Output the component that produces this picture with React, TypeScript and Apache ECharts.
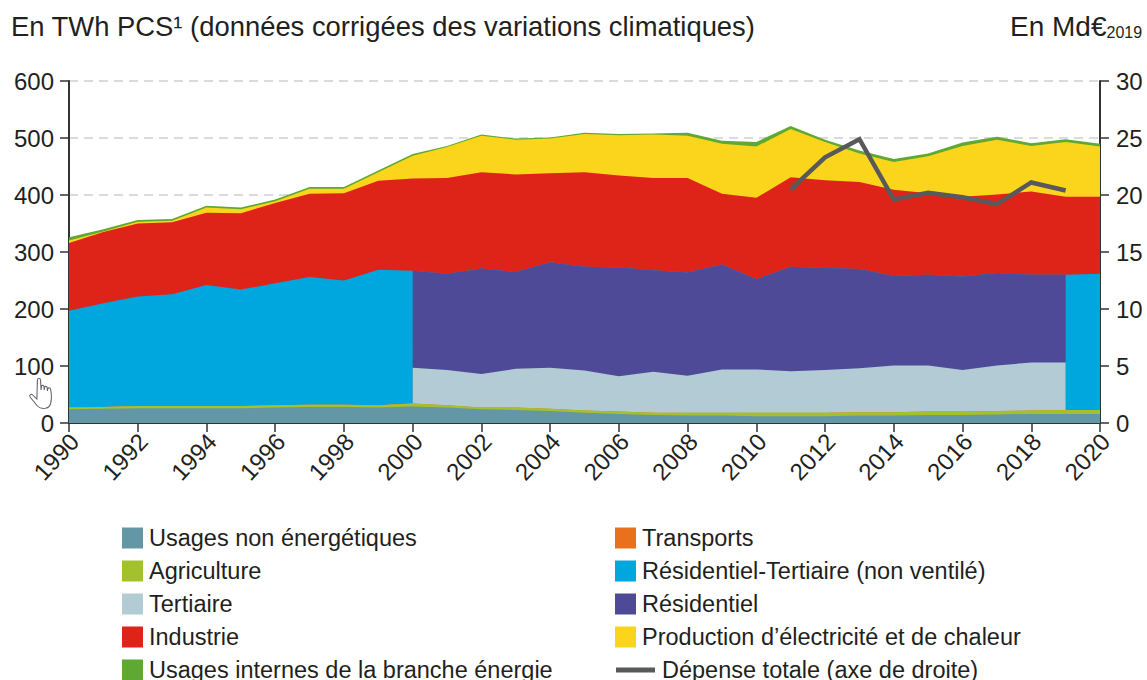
import React, { useEffect, useRef } from "react";
import * as echarts from "echarts";

const years = [1990,1991,1992,1993,1994,1995,1996,1997,1998,1999,2000,2001,2002,2003,2004,2005,2006,2007,2008,2009,2010,2011,2012,2013,2014,2015,2016,2017,2018,2019,2020];
const usagesNonEnergetiques = [24,25,26,26,26,26,27,28,28,27,29,27,24,23,21,18,16,14,13,13,12,12,12,13,13,14,14,15,16,16,16];
const agriculture = [3,3,4,4,4,4,4,4,4,4,5,4,3,4,4,4,4,4,5,5,6,6,6,6,6,6,6,6,6,7,7];
const transports = years.map(() => 0);
const N = null;
const residentielTertiaire = [170,182,192,196,212,204,214,224,218,238,233,N,N,N,N,N,N,N,N,N,N,N,N,N,N,N,N,N,N,237,239];
const tertiaire = [N,N,N,N,N,N,N,N,N,N,63,62,59,68,72,70,62,72,65,76,76,73,75,77,82,81,73,80,84,83,N];
const residentiel = [N,N,N,N,N,N,N,N,N,N,170,169,185,170,185,182,191,178,181,184,158,183,179,174,157,159,164,162,154,154,N];
const industrie = [119,125,128,126,127,134,141,146,153,156,162,168,169,171,156,166,161,162,166,124,143,157,154,153,151,143,140,138,146,137,135];
const production = [4,1,3,3,9,7,3,9,8,15,40,54,64,61,61,67,71,76,74,88,90,85,67,50,49,65,89,96,80,96,88];
const usagesInternes = [6,4,3,3,3,3,3,3,3,3,3,2,2,2,2,2,2,2,5,5,8,5,4,5,5,5,6,5,5,5,5];
const depenseYears = [2011,2012,2013,2014,2015,2016,2017,2018,2019];
const depenseValues = [20.5,23.3,24.9,19.6,20.2,19.8,19.2,21.1,20.4];

const legendLeft = ["Usages non énergétiques","Agriculture","Tertiaire","Industrie"];
const legendLeftLast = ["Usages internes de la branche énergie"];
const legendRight = ["Transports","Résidentiel-Tertiaire (non ventilé)","Résidentiel","Production d’électricité et de chaleur"];
const lineName = "Dépense totale (axe de droite)";

const FONT = "Liberation Sans";
const INK = "#231f20";
const EPS = 0.001;

// Each entry of `xs` is a year, plus a hair-breadth duplicate at the two hard breaks of the stack.
const xs: number[] = [];
years.forEach((y) => {
  xs.push(y);
  if (y === 2000 || y === 2019) xs.push(y + EPS);
});
const full = (a: number[]) => xs.map((x) => a[years.indexOf(Math.floor(x))]);
// Split series (Tertiaire, Résidentiel) are present from just after 2000 to 2019 included.
const splitPart = (a: (number | null)[]) =>
  xs.map((x) => (x > 2000 && x <= 2019 ? a[years.indexOf(Math.floor(x))] ?? 0 : 0));
// The non-split series is present up to 2000 included, and from just after 2019.
const mergedPart = (a: (number | null)[]) =>
  xs.map((x) => (x <= 2000 || x > 2019 ? a[years.indexOf(Math.floor(x))] ?? 0 : 0));

const layers: { name: string; color: string; values: number[] }[] = [
  { name: "Usages non énergétiques", color: "#6497a5", values: full(usagesNonEnergetiques) },
  { name: "Agriculture", color: "#a3c12a", values: full(agriculture) },
  { name: "Transports", color: "#e9711c", values: full(transports) },
  { name: "Tertiaire", color: "#b2cbd5", values: splitPart(tertiaire) },
  { name: "Résidentiel", color: "#4f4a97", values: splitPart(residentiel) },
  { name: "Résidentiel-Tertiaire (non ventilé)", color: "#00a6de", values: mergedPart(residentielTertiaire) },
  { name: "Industrie", color: "#de2318", values: full(industrie) },
  { name: "Production d’électricité et de chaleur", color: "#fbd51b", values: full(production) },
  { name: "Usages internes de la branche énergie", color: "#5fa932", values: full(usagesInternes) },
];

// Running totals: every layer is an area down to zero, painted from the top layer to the bottom one.
const running = xs.map(() => 0);
const areaSeries = layers.map((l) => {
  const data = xs.map((x, i) => {
    running[i] += l.values[i];
    return [x, running[i]];
  });
  return {
    name: l.name,
    type: "line",
    data,
    showSymbol: false,
    symbol: "none",
    color: l.color,
    itemStyle: { color: l.color },
    lineStyle: { width: 0, color: l.color },
    areaStyle: { color: l.color, opacity: 1 },
    silent: true,
    z: 2,
  };
}).reverse();

const legendBase = {
  orient: "vertical" as const,
  icon: "rect",
  itemWidth: 21,
  itemHeight: 21,
  itemGap: 9,
  padding: 0,
  selectedMode: false,
  textStyle: { fontFamily: FONT, fontSize: 23.5, color: INK, padding: [0, 0, 0, 1], lineHeight: 22 },
};

const handPath =
  "M8 2 C8 0 11 0 11 2 L11.5 12 L12 8 C12.5 7 14 7 14.3 8.5 L14.5 12 L15 9 C15.5 8 17 8 17.3 9.5 L17.5 13 L18 10.5 C18.5 9.5 20 9.5 20.5 11 C21.5 16 21.5 22 20.5 26 C19 31 12 32 8 28 L1 19 C0 17 2 15.5 3.5 17 L7.5 21 Z";
echarts.graphic.registerShape("hand", echarts.graphic.extendPath(handPath as any, {}) as any);

export default function App() {
  const ref = useRef<HTMLDivElement>(null);
  useEffect(() => {
    document.body.style.margin = "0";
    const chart = echarts.init(ref.current!, undefined, { renderer: "svg" });
    chart.setOption({
      animation: false,
      backgroundColor: "#ffffff",
      textStyle: { fontFamily: FONT },
      title: [
        {
          text: "En TWh PCS¹ (données corrigées des variations climatiques)",
          left: 11,
          top: 13,
          padding: 0,
          textStyle: { fontFamily: FONT, fontSize: 27.4, fontWeight: "normal", color: INK },
        },
        {
          text: "{a|En Md€}{s|2019}",
          left: 1010,
          top: 12,
          padding: 0,
          textStyle: {
            fontFamily: FONT,
            fontWeight: "normal",
            color: INK,
            rich: {
              a: { fontFamily: FONT, fontSize: 28, color: INK },
              s: { fontFamily: FONT, fontSize: 16, color: INK, verticalAlign: "bottom", padding: [12, 0, 0, 0] },
            },
          },
        },
      ],
      grid: { left: 69, right: 47, top: 81, bottom: 257, containLabel: false },
      xAxis: {
        type: "value",
        min: 1990,
        max: 2020,
        interval: 2,
        axisLine: { show: true, onZero: false, lineStyle: { color: "#333333", width: 2 } },
        axisTick: { show: true, length: 9, inside: false, lineStyle: { color: "#333333", width: 1.5 } },
        splitLine: { show: false },
        axisLabel: {
          rotate: 47,
          margin: 20,
          padding: [0, -8, 0, 0],
          fontFamily: FONT,
          fontSize: 24,
          color: INK,
          formatter: (v: number) => String(v),
        },
      },
      yAxis: [
        {
          type: "value",
          min: 0,
          max: 600,
          interval: 100,
          axisLine: { show: true, lineStyle: { color: "#333333", width: 2 } },
          axisTick: { show: true, length: 9, lineStyle: { color: "#333333", width: 1.5 } },
          splitLine: { show: true, lineStyle: { color: "#cfcfcf", width: 1.5, type: [9, 6] } },
          axisLabel: { margin: 15, fontFamily: FONT, fontSize: 24, color: INK },
        },
        {
          type: "value",
          min: 0,
          max: 30,
          interval: 5,
          position: "right",
          axisLine: { show: true, lineStyle: { color: "#333333", width: 2 } },
          axisTick: { show: true, length: 9, lineStyle: { color: "#333333", width: 1.5 } },
          splitLine: { show: false },
          axisLabel: { margin: 16, fontFamily: FONT, fontSize: 24, color: INK },
        },
      ],
      legend: [
        { ...legendBase, left: 122, top: 526, data: legendLeft },
        { ...legendBase, left: 122, top: 658, data: legendLeftLast },
        { ...legendBase, left: 615, top: 526, data: legendRight },
        {
          ...legendBase,
          left: 616,
          top: 658,
          itemWidth: 39,
          itemHeight: 5,
          data: [lineName],
          textStyle: { ...legendBase.textStyle, padding: [0, 0, 0, 2] },
        },
      ],
      series: [
        ...areaSeries,
        {
          name: lineName,
          type: "line",
          yAxisIndex: 1,
          data: depenseYears.map((y, i) => [y, depenseValues[i]]),
          showSymbol: false,
          symbol: "none",
          color: "#58595b",
          itemStyle: { color: "#58595b" },
          lineStyle: { color: "#58595b", width: 4.5, join: "miter" },
          z: 5,
          silent: true,
        },
      ],
      graphic: [
        {
          type: "hand",
          x: 29,
          y: 378,
          scaleX: 1.05,
          scaleY: 1,
          z: 100,
          style: { fill: "#ffffff", stroke: "#5f6068", lineWidth: 1 },
        },
      ],
    });
    return () => chart.dispose();
  }, []);
  return <div ref={ref} style={{ position: "fixed", left: 0, top: 0, width: 1147, height: 680, overflow: "hidden" }} />;
}
